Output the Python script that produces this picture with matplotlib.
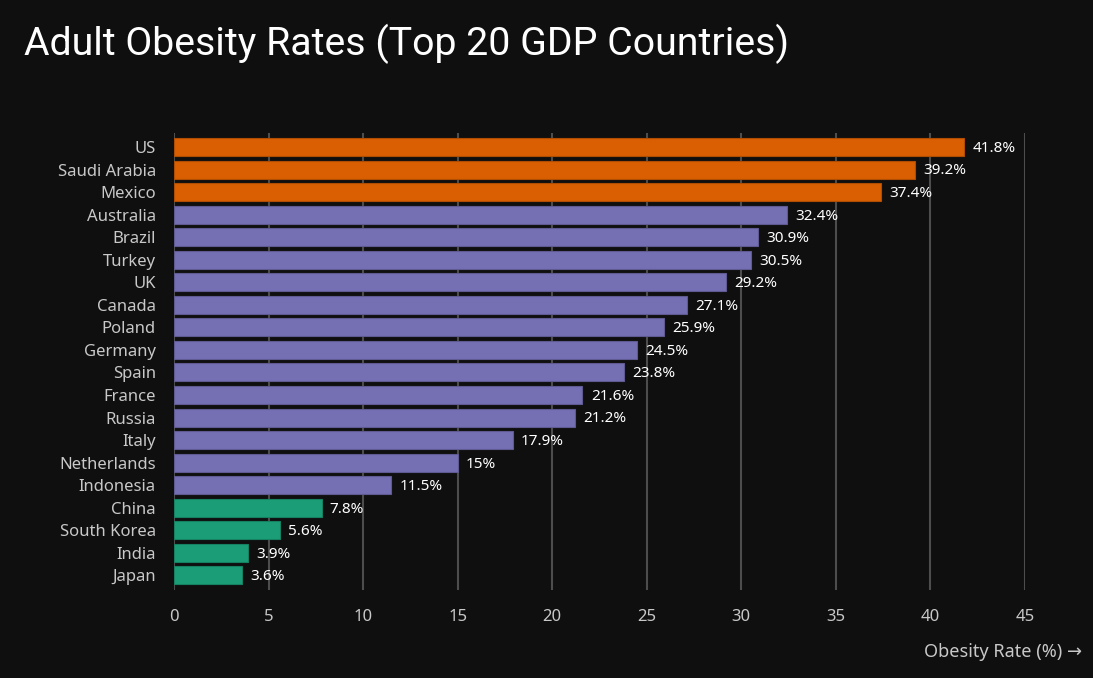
import matplotlib.pyplot as plt

countries = ['US', 'Saudi Arabia', 'Mexico', 'Australia', 'Brazil', 'Turkey', 'UK',
             'Canada', 'Poland', 'Germany', 'Spain', 'France', 'Russia', 'Italy',
             'Netherlands', 'Indonesia', 'China', 'South Korea', 'India', 'Japan']
rates = [41.8, 39.2, 37.4, 32.4, 30.9, 30.5, 29.2, 27.1, 25.9, 24.5, 23.8, 21.6,
         21.2, 17.9, 15, 11.5, 7.8, 5.6, 3.9, 3.6]
groups = ['high'] * 3 + ['mid'] * 13 + ['low'] * 4
xticks = [0, 5, 10, 15, 20, 25, 30, 35, 40, 45]

fill = {'high': '#d95f02', 'mid': '#7570b3', 'low': '#1b9e77'}
edge = {'high': '#b04d02', 'mid': '#5f5b92', 'low': '#168063'}
bg = '#0f0f0f'

plt.rcParams['font.family'] = ['Noto Sans', 'DejaVu Sans']

fig = plt.figure(figsize=(10.93, 6.78), dpi=100, facecolor=bg)
ax = fig.add_axes([0.1592, 0.1298, 0.7786, 0.674])
ax.set_facecolor(bg)

ypos = list(range(len(countries)))
ax.barh(ypos, rates, height=0.8,
        color=[fill[g] for g in groups],
        edgecolor=[edge[g] for g in groups], linewidth=0.8, zorder=3)

for y, v in zip(ypos, rates):
    label = f'{v:g}%'
    ax.annotate(label, (v, y), xytext=(6, -1), textcoords='offset points',
                va='center', ha='left', color='white', fontsize=11, zorder=4)

ax.set_xlim(0, 45)
ax.set_ylim(len(countries) - 0.35, -0.62)
ax.set_xticks(xticks)
ax.set_yticks(ypos)
ax.set_yticklabels(countries)
ax.tick_params(axis='both', length=0, colors='#c8c8c8', labelsize=12)
ax.tick_params(axis='x', pad=14)
ax.tick_params(axis='y', pad=13)
ax.grid(axis='x', color='#4d4d4d', linewidth=1.5, zorder=0)
for s in ax.spines.values():
    s.set_visible(False)

fig.text(0.022, 0.935, 'Adult Obesity Rates (Top 20 GDP Countries)',
         fontsize=28.3, color='white', ha='left', va='center', family='Roboto')
fig.text(0.99, 0.038, 'Obesity Rate (%) \u2192', fontsize=13, color='#c8c8c8',
         ha='right', va='center')

fig.savefig('out.png', dpi=100, facecolor=bg)
